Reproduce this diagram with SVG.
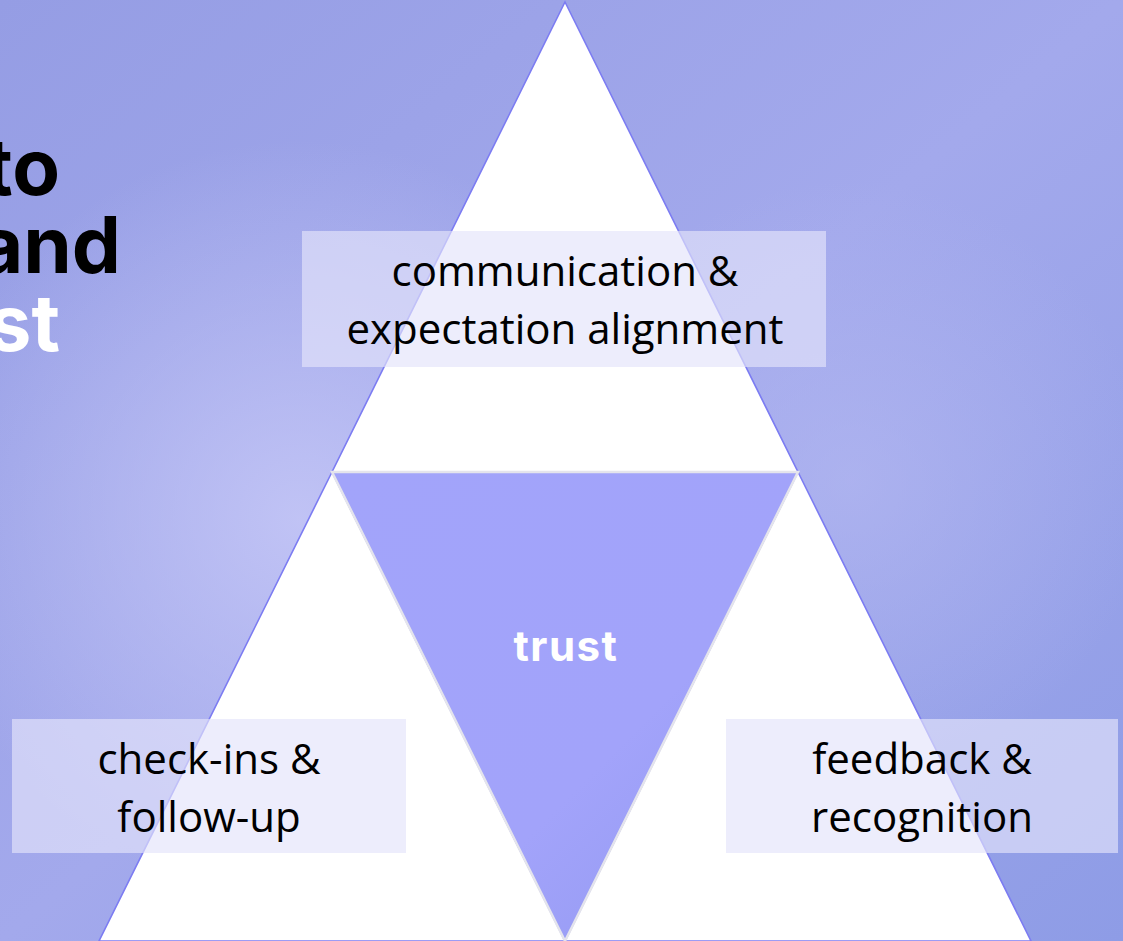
<svg xmlns="http://www.w3.org/2000/svg" width="1123" height="941" viewBox="0 0 1123 941">
<defs>
<linearGradient id="bg" x1="0" y1="0" x2="1" y2="1">
<stop offset="0" stop-color="#959DE4"/>
<stop offset="0.5" stop-color="#A3A9EC"/>
<stop offset="1" stop-color="#8E9CE6"/>
</linearGradient>
<radialGradient id="glow" cx="300" cy="520" r="380" gradientUnits="userSpaceOnUse">
<stop offset="0" stop-color="#C4C6F6" stop-opacity="0.9"/>
<stop offset="1" stop-color="#C4C6F6" stop-opacity="0"/>
</radialGradient>
<radialGradient id="glow2" cx="850" cy="480" r="300" gradientUnits="userSpaceOnUse">
<stop offset="0" stop-color="#B6BAF2" stop-opacity="0.6"/>
<stop offset="1" stop-color="#B6BAF2" stop-opacity="0"/>
</radialGradient>
<linearGradient id="mid" x1="0" y1="0" x2="1" y2="1">
<stop offset="0" stop-color="#A2A4FA"/>
<stop offset="0.6" stop-color="#A2A3FA"/>
<stop offset="1" stop-color="#9097F0"/>
</linearGradient>
<style>
.tri{fill:#FFFFFF;stroke:#7C7CF2;stroke-width:1.6}
.box{fill:#E4E4FA;fill-opacity:0.66}
.lbl{font-family:"Open Sans","Liberation Sans",sans-serif;font-size:42px;fill:#000;text-anchor:middle}
.title{font-family:Inter,"Liberation Sans",sans-serif;font-weight:700;font-size:78px;text-anchor:end}
</style>
</defs>
<rect width="1123" height="941" fill="url(#bg)"/>
<rect width="1123" height="941" fill="url(#glow)"/>
<rect width="1123" height="941" fill="url(#glow2)"/>

<g id="title">
<text class="title" x="60" y="195" fill="#000">to</text>
<text class="title" x="121" y="273" fill="#000">and</text>
<text class="title" x="60" y="351" fill="#FFF">st</text>
</g>

<g id="top-triangle"><polygon class="tri" points="565,2 798,472 332,472"/></g>
<g id="left-triangle"><polygon class="tri" points="332,472 565,941 99,941"/></g>
<g id="right-triangle"><polygon class="tri" points="798,472 1031,941 565,941"/></g>
<g id="trust">
<polygon points="332,472 798,472 565,941" fill="url(#mid)" stroke="#E4E4EC" stroke-width="2.5"/>
<text x="566" y="661" font-family="Inter,'Liberation Sans',sans-serif" font-weight="700" font-size="42" letter-spacing="1.5" fill="#FFF" text-anchor="middle">trust</text>
</g>

<g id="label-top">
<rect class="box" x="302" y="231" width="524" height="136"/>
<text class="lbl" x="565" y="286">communication &amp;</text>
<text class="lbl" x="565" y="344">expectation alignment</text>
</g>
<g id="label-left">
<rect class="box" x="12" y="719" width="394" height="134"/>
<text class="lbl" x="209" y="774">check-ins &amp;</text>
<text class="lbl" x="209" y="832">follow-up</text>
</g>
<g id="label-right">
<rect class="box" x="726" y="719" width="392" height="134"/>
<text class="lbl" x="922" y="774">feedback &amp;</text>
<text class="lbl" x="922" y="832">recognition</text>
</g>
<g id="connectors"/>
</svg>
